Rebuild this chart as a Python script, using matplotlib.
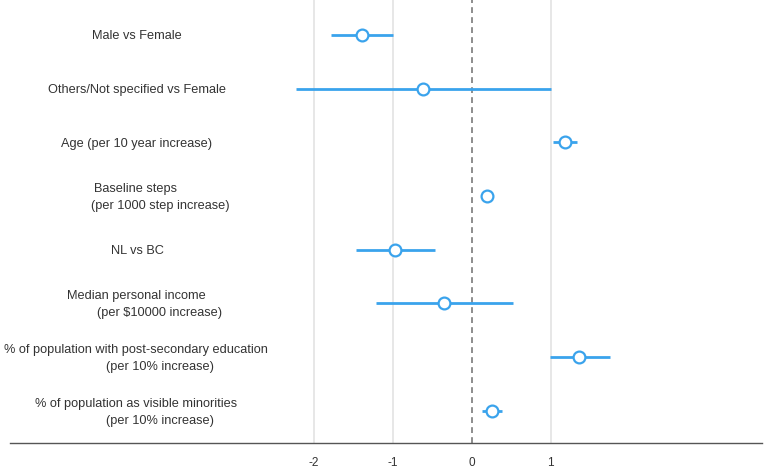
import matplotlib
matplotlib.use("Agg")
import matplotlib.pyplot as plt
import matplotlib.transforms as mtransforms

plt.rcParams['font.family'] = ['Liberation Sans', 'DejaVu Sans']

label_line1 = [
    "Male vs Female",
    "Others/Not specified vs Female",
    "Age (per 10 year increase)",
    "Baseline steps",
    "NL vs BC",
    "Median personal income",
    "% of population with post-secondary education",
    "% of population as visible minorities",
]
label_line2 = [
    "",
    "",
    "",
    "(per 1000 step increase)",
    "",
    "(per $10000 increase)",
    "(per 10% increase)",
    "(per 10% increase)",
]
estimates = [-1.39, -0.61, 1.18, 0.20, -0.97, -0.35, 1.36, 0.26]
ci_low = [-1.78, -2.22, 1.03, 0.18, -1.47, -1.21, 0.99, 0.13]
ci_high = [-0.99, 1.00, 1.34, 0.22, -0.47, 0.52, 1.75, 0.39]
xticks = [-2, -1, 0, 1]
xtick_labels = ["-2", "-1", "0", "1"]

W, H = 765, 476
fig = plt.figure(figsize=(W / 100, H / 100), dpi=100)
ax = fig.add_axes([10 / W, (H - 443) / H, 752 / W, 443 / H])

blue = '#3aa3ec'
n = len(estimates)
ys = list(range(1, n + 1))

for g in [-2, -1, 1]:
    ax.axvline(g, color='#e3e3e3', lw=1.2, zorder=0)
ax.axvline(0, color='#7a7a7a', lw=1.2, ls=(0, (3.5, 2.5)), zorder=1)

for y, est, lo, hi in zip(ys, estimates, ci_low, ci_high):
    ax.plot([lo, hi], [y, y], color=blue, lw=2.0, solid_capstyle='butt', zorder=2)
    ax.plot([est], [y], marker='o', ms=8.5, mfc='white', mec=blue, mew=1.6,
            ls='none', zorder=3)

ax.set_xlim(-5.85, 3.68)
ax.set_ylim(8.6, 0.35)

trans = mtransforms.blended_transform_factory(fig.transFigure, ax.transData)
line_off = 0.158
for y, l1, l2 in zip(ys, label_line1, label_line2):
    if l2:
        ax.text(136 / W, y - line_off, l1, transform=trans, ha='center',
                va='center_baseline', fontsize=9.2, color='#333333')
        ax.text(160 / W, y + line_off, l2, transform=trans, ha='center',
                va='center_baseline', fontsize=9.2, color='#333333')
    else:
        ax.text(137 / W, y, l1, transform=trans, ha='center',
                va='center_baseline', fontsize=9.2, color='#333333')

ax.set_xticks(xticks)
ax.set_xticklabels(xtick_labels, fontsize=8.5, color='#333333')
ax.tick_params(axis='x', length=0, pad=10)
ax.set_yticks([])
for s in ['top', 'right', 'left']:
    ax.spines[s].set_visible(False)
ax.spines['bottom'].set_color('#555555')
ax.spines['bottom'].set_linewidth(1.0)

fig.savefig("out.png", dpi=100)
